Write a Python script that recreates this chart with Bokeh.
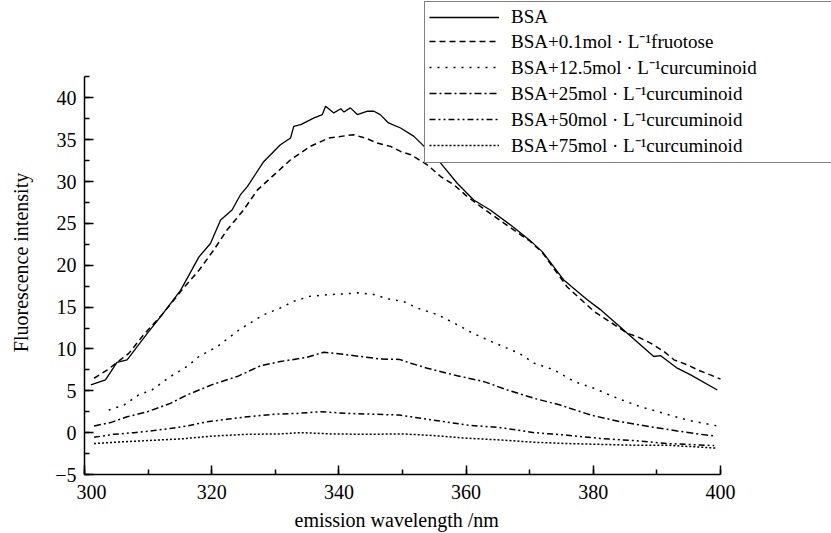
from bokeh.plotting import figure
from bokeh.models import Range1d, SingleIntervalTicker, Legend, LegendItem, Title
from bokeh.embed import file_html
from bokeh.resources import INLINE

# ---- data ----
bsa_x = [301.0, 303.3, 305.1, 306.7, 309.9, 312.0, 315.1, 318.0, 319.8, 321.4, 323.2, 324.5, 325.6,
         328.2, 330.8, 332.4, 332.9, 334.0, 336.1, 337.4, 337.9, 339.2, 340.3, 340.8, 341.8, 342.9,
         344.5, 345.5, 346.5, 347.8, 349.7, 351.8, 353.4, 356.0, 358.6, 361.2, 363.8, 367.0, 370.0,
         372.0, 375.4, 379.0, 381.1, 385.3, 389.5, 390.6, 393.2, 395.3, 399.5]
bsa_y = [5.7, 6.3, 8.4, 8.7, 11.9, 13.9, 17.0, 21.0, 22.6, 25.4, 26.6, 28.4, 29.4,
         32.4, 34.4, 35.2, 36.6, 36.8, 37.6, 38.0, 39.0, 38.2, 38.7, 38.3, 38.8, 38.0,
         38.4, 38.4, 38.0, 37.0, 36.4, 35.4, 34.2, 32.2, 29.8, 27.8, 26.6, 24.8, 23.0,
         21.6, 18.2, 15.9, 14.7, 11.9, 9.1, 9.2, 7.7, 6.9, 5.1]

fru_x = [301.5, 303.6, 307.0, 309.3, 312.2, 315.6, 318.0, 320.3, 322.4, 325.0, 327.2, 329.8, 332.4,
         335.5, 338.4, 342.3, 344.5, 346.0, 348.1, 349.7, 351.3, 353.9, 356.0, 358.1, 360.2, 362.3,
         366.0, 370.0, 372.0, 375.9, 380.1, 385.3, 387.4, 389.0, 391.1, 392.7, 394.8, 396.4, 398.4, 400.0]
fru_y = [6.5, 7.5, 9.5, 11.7, 14.1, 17.3, 19.4, 21.8, 24.2, 26.6, 29.0, 30.8, 32.6,
         34.2, 35.2, 35.6, 35.1, 34.6, 34.2, 33.6, 33.2, 32.0, 30.6, 29.6, 28.2, 27.0,
         25.0, 22.9, 21.5, 17.4, 14.5, 11.9, 11.3, 10.7, 9.7, 8.7, 8.1, 7.5, 6.9, 6.4]

c12_x = [303.8, 306.2, 308.5, 310.6, 313.5, 316.1, 318.0, 320.9, 324.0, 325.6, 328.2, 330.8, 332.9,
         335.5, 338.7, 341.3, 342.9, 345.5, 347.6, 350.2, 352.3, 355.5, 358.1, 361.0, 363.6, 368.3,
         370.7, 373.8, 377.0, 380.1, 383.8, 387.4, 391.1, 394.8, 399.5]
c12_y = [2.7, 3.3, 4.5, 5.1, 6.7, 7.9, 9.1, 10.3, 12.1, 12.9, 14.1, 14.9, 15.7,
         16.3, 16.5, 16.6, 16.7, 16.5, 16.0, 15.65, 14.9, 14.1, 13.1, 11.9, 11.0, 9.5,
         8.3, 7.5, 6.1, 5.3, 4.1, 3.1, 2.3, 1.5, 0.8]

c25_x = [301.5, 304.1, 306.7, 309.9, 313.5, 316.1, 320.3, 324.0, 327.7, 330.8, 335.0, 337.6, 340.3,
         343.4, 346.5, 349.5, 351.3, 353.9, 358.6, 362.8, 366.5, 370.7, 374.8, 379.6, 384.3, 389.0,
         393.2, 396.9, 399.0]
c25_y = [0.8, 1.2, 1.9, 2.5, 3.5, 4.5, 5.8, 6.7, 8.0, 8.5, 9.0, 9.6, 9.4,
         9.1, 8.8, 8.75, 8.3, 7.7, 6.8, 6.1, 5.1, 4.1, 3.3, 2.1, 1.3, 0.7,
         0.2, -0.2, -0.4]

c50_x = [301.5, 304.6, 307.8, 310.9, 313.5, 316.1, 319.3, 322.4, 325.6, 329.8, 333.4, 337.1, 341.3,
         345.5, 349.5, 351.3, 354.9, 360.2, 365.4, 370.7, 375.9, 381.1, 386.4, 391.6, 399.0]
c50_y = [-0.55, -0.2, 0.0, 0.25, 0.5, 0.8, 1.3, 1.6, 1.9, 2.2, 2.3, 2.5, 2.3,
         2.2, 2.1, 1.9, 1.5, 0.9, 0.6, 0.0, -0.3, -0.7, -0.95, -1.3, -1.55]

c75_x = [301.5, 304.6, 309.9, 315.1, 320.3, 325.6, 330.8, 334.0, 338.7, 343.9, 350.0, 354.9, 360.2,
         365.4, 370.7, 375.9, 381.1, 386.4, 391.6, 399.5]
c75_y = [-1.3, -1.15, -0.95, -0.75, -0.4, -0.2, -0.15, 0.0, -0.15, -0.2, -0.15, -0.35, -0.67,
         -0.87, -1.15, -1.3, -1.4, -1.5, -1.5, -1.85]

series_labels = [
    "BSA",
    "BSA+0.1mol \u00b7 L\u207b\u00b9fruotose",
    "BSA+12.5mol \u00b7 L\u207b\u00b9curcuminoid",
    "BSA+25mol \u00b7 L\u207b\u00b9curcuminoid",
    "BSA+50mol \u00b7 L\u207b\u00b9curcuminoid",
    "BSA+75mol \u00b7 L\u207b\u00b9curcuminoid",
]
x_label = "emission wavelength /nm"
y_label = "Fluorescence intensity"

FONT = "Liberation Serif"

# frame spans to the top and right edge so the legend (which overlaps the
# plot's corner) is not clipped; the axes are bounded to the data extent
p = figure(width=831, height=533, output_backend="svg", toolbar_location=None,
           x_range=Range1d(300, 417.45), y_range=Range1d(-5, 51.63),
           min_border_left=84, min_border_right=0, min_border_top=0, min_border_bottom=59)
p.outline_line_color = None
p.grid.visible = False
p.background_fill_color = "white"

p.xaxis.ticker = SingleIntervalTicker(interval=20, num_minor_ticks=2)
p.yaxis.ticker = SingleIntervalTicker(interval=5, num_minor_ticks=2)
p.xaxis.bounds = (300, 400)
p.yaxis.bounds = (-5, 42.6)
p.yaxis.major_label_overrides = {-5: "\u22125"}
p.xaxis.major_label_overrides = {300: "\u2007\u2009300"}
for ax in (p.xaxis, p.yaxis):
    ax.axis_line_width = 1.5
    ax.axis_line_color = "black"
    ax.major_tick_in = 9
    ax.major_tick_out = 0
    ax.minor_tick_in = 5
    ax.minor_tick_out = 0
    ax.major_tick_line_width = 1.5
    ax.minor_tick_line_width = 1.5
    ax.major_tick_line_color = "black"
    ax.minor_tick_line_color = "black"
    ax.major_label_text_font = FONT
    ax.major_label_text_font_size = "20px"
    ax.major_label_text_color = "black"

p.xaxis.major_label_standoff = 6
p.yaxis.major_label_standoff = 8

# y title: axis label, padded at its far end so the visible text sits
# centred on the bounded axis rather than on the taller frame
p.yaxis.axis_label = y_label + "\u2003\u2003\u2002"
p.yaxis.axis_label_text_font = FONT
p.yaxis.axis_label_text_font_size = "20px"
p.yaxis.axis_label_text_font_style = "normal"
p.yaxis.axis_label_text_color = "black"
p.yaxis.axis_label_standoff = 20

# x title placed in the bottom panel, aligned under the bounded axis
xt = Title(text=x_label, align="left", offset=210, standoff=2, vertical_align="bottom",
           text_font=FONT, text_font_size="20px", text_font_style="normal",
           text_color="black", text_line_height=1.0)
p.add_layout(xt, "below")

styles = [
    dict(line_dash="solid", line_width=1.3),
    dict(line_dash="6 4", line_width=1.5),
    dict(line_dash="2 6", line_width=1.5),
    dict(line_dash="7 3 2 3", line_width=1.5),
    dict(line_dash="6 3 2 3 2 3", line_width=1.5),
    dict(line_dash="2 2", line_width=1.5),
]
data = [(bsa_x, bsa_y), (fru_x, fru_y), (c12_x, c12_y), (c25_x, c25_y), (c50_x, c50_y), (c75_x, c75_y)]

items = []
for (xs, ys), st, lab in zip(data, styles, series_labels):
    r = p.line(xs, ys, line_color="black", **st)
    items.append(LegendItem(label=lab, renderers=[r]))

legend = Legend(items=items, location=(340, 311), padding=4, spacing=0,
                glyph_width=70, glyph_height=16, label_height=16, label_width=340,
                label_standoff=12, label_text_font=FONT, label_text_font_size="19px",
                label_text_line_height=1.0,
                label_text_color="black", border_line_color="black", border_line_width=1.5,
                background_fill_alpha=1.0, margin=0)
p.add_layout(legend, "center")

open("out.html", "w").write(file_html(p, INLINE))
